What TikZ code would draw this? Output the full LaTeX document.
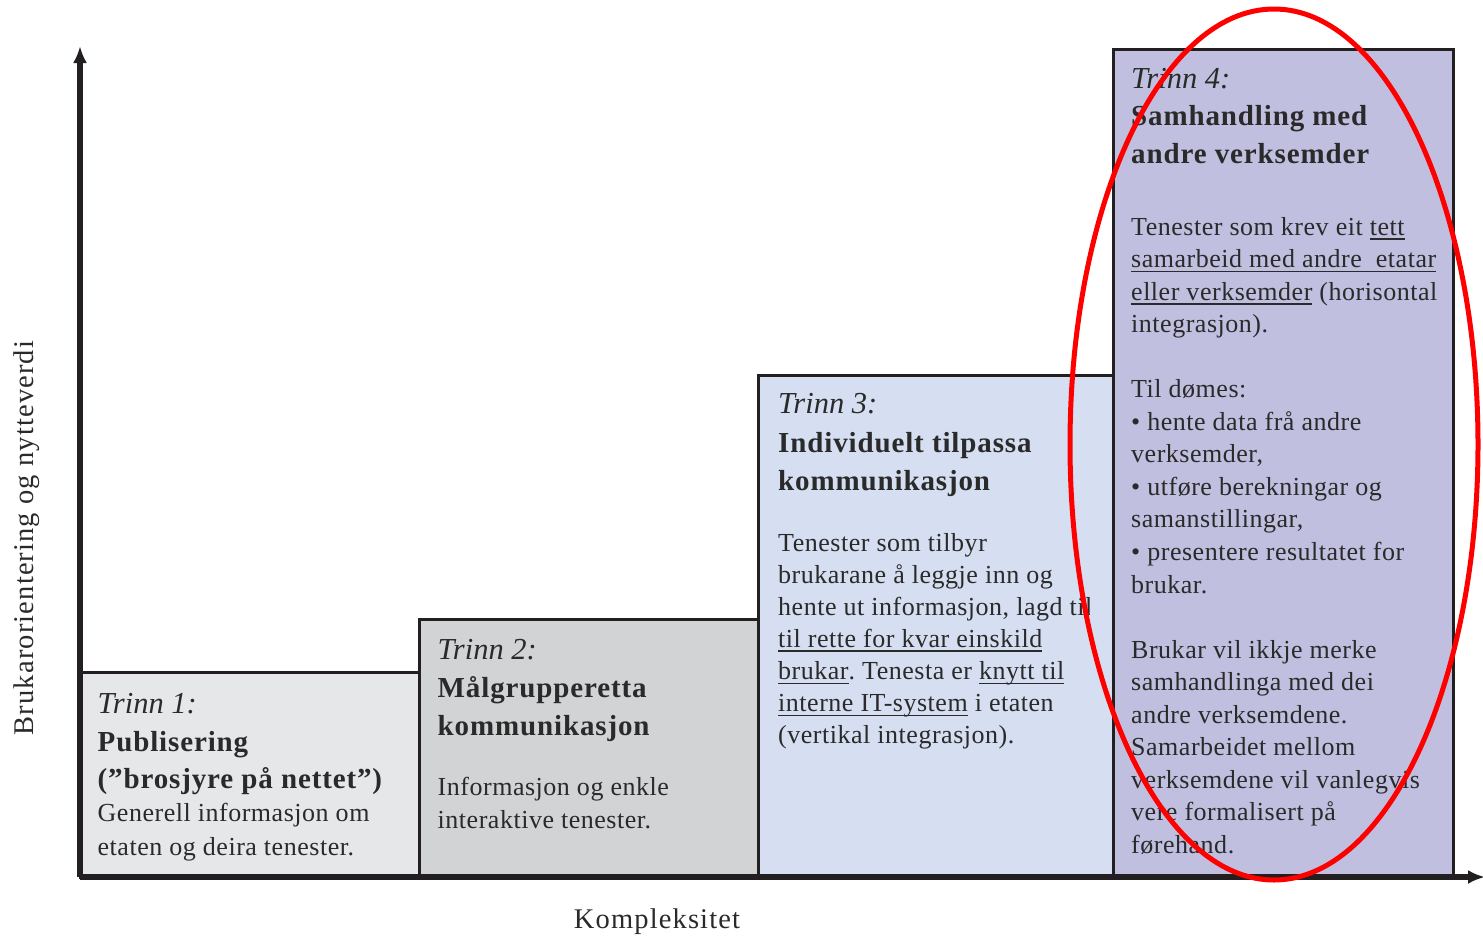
\documentclass[tikz,border=0pt]{standalone}
\usepackage{fontspec}
\setmainfont{Liberation Serif}
\newfontfamily\spf[LetterSpace=2]{Liberation Serif}
\newfontfamily\spb[LetterSpace=3]{Liberation Serif}
\newfontfamily\spa[LetterSpace=4]{Liberation Serif}
\usetikzlibrary{arrows.meta}
\frenchspacing
\definecolor{ink}{HTML}{231F20}
\definecolor{txt}{HTML}{2A2A2A}
\definecolor{cA}{HTML}{E6E7E9}
\definecolor{cB}{HTML}{D2D3D5}
\definecolor{cC}{HTML}{D5DFF1}
\definecolor{cD}{HTML}{C1BFDF}
\newcommand\myul[1]{\setbox0=\hbox{#1}\rlap{\rule[-4.5pt]{\wd0}{1.4pt}}\box0\relax}
\tikzset{
  boxst/.style={draw=ink, line width=3pt},
  axisst/.style={draw=ink, line width=5.5pt, -{Latex[length=17pt,width=14pt]}},
  bd/.style={font=\spf\fontsize{26}{30}\selectfont, anchor=base west, inner sep=0pt, text=txt},
  hd/.style={font=\spb\bfseries\fontsize{29}{33}\selectfont, anchor=base west, inner sep=0pt, text=txt},
  tr/.style={font=\itshape\fontsize{30.5}{34}\selectfont, anchor=base west, inner sep=0pt, text=txt},
  axlab/.style={font=\spa\fontsize{28.5}{32}\selectfont, inner sep=0pt, text=txt},
}
\begin{document}
\begin{tikzpicture}[x=1pt,y=-1pt]
\useasboundingbox (0,0) rectangle (1483,935);
% boxes
\filldraw[boxst, fill=cA] (80,672.5) rectangle (419.5,877);
\filldraw[boxst, fill=cB] (419.5,619.5) rectangle (758.7,877);
\filldraw[boxst, fill=cC] (758.7,375.5) rectangle (1113,877);
\filldraw[boxst, fill=cD] (1113,49.7) rectangle (1453.5,877);
% axes
\coordinate (O) at (80,877);
\coordinate (ytip) at (80,46);
\coordinate (xtip) at (1485,877);
\draw[axisst] (O) -- (ytip);
\draw[axisst] (O) -- (xtip);
\node[axlab, rotate=90, anchor=base] (ylab) at (33,538) {Brukarorientering og nytteverdi};
\node[axlab, anchor=base] (xlab) at (657,928) {Kompleksitet};
% box 1
\node[tr] (t1) at (97.5,713) {Trinn 1:};
\node[hd] (h1a) at (97.5,751.5) {Publisering};
\node[hd] (h1b) at (97.5,788.5) {(”brosjyre på nettet”)};
\node[bd] (b1a) at (97.5,821.7) {Generell informasjon om};
\node[bd] (b1b) at (97.5,855) {etaten og deira tenester.};
% box 2
\node[tr] (t2) at (437.5,659) {Trinn 2:};
\node[hd] (h2a) at (437.5,697) {Målgrupperetta};
\node[hd] (h2b) at (437.5,735) {kommunikasjon};
\node[bd] (b2a) at (437.5,795) {Informasjon og enkle};
\node[bd] (b2b) at (437.5,828) {interaktive tenester.};
% box 3
\node[tr] (t3) at (778,413) {Trinn 3:};
\node[hd] (h3a) at (778,452) {Individuelt tilpassa};
\node[hd] (h3b) at (778,490) {kommunikasjon};
\begin{scope}
\clip (759,376) rectangle (1089,877);
\foreach \t [count=\k from 0] in {{Tenester som tilbyr},{brukarane å leggje inn og},{hente ut informasjon, lagd til},{\myul{til rette for kvar einskild}},{\myul{brukar}. Tenesta er \myul{knytt til}},{\myul{interne IT-system} i etaten},{(vertikal integrasjon).}}
  \node[bd] (b3-\k) at (778,551+32.1*\k) {\t};
\end{scope}
% box 4
\node[tr] (t4) at (1131,88) {Trinn 4:};
\node[hd] (h4a) at (1131,125) {Samhandling med};
\node[hd] (h4b) at (1131,163) {andre verksemder};
\foreach \k/\t in {0/{Tenester som krev eit \myul{tett}},1/{\myul{samarbeid med andre\ \ etatar}},2/{\myul{eller verksemder} (horisontal},3/{integrasjon).},5/{Til dømes:},6/{• hente data frå andre},7/{verksemder,},8/{• utføre berekningar og},9/{samanstillingar,},10/{• presentere resultatet for},11/{brukar.},13/{Brukar vil ikkje merke},14/{samhandlinga med dei},15/{andre verksemdene.},16/{Samarbeidet mellom},17/{verksemdene vil vanlegvis},18/{vere formalisert på},19/{førehand.}}
  \node[bd] (b4-\k) at (1131,235+32.55*\k) {\t};
% red ellipse
\draw[red, line width=5pt] (1274,444.5) ellipse [x radius=204, y radius=435.5];
\end{tikzpicture}
\end{document}
